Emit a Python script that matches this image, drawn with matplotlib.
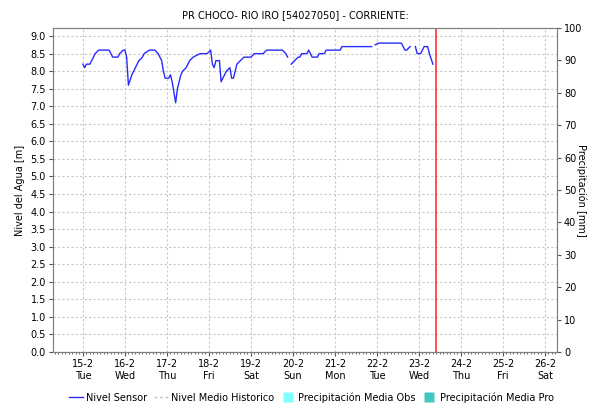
import numpy as np
import matplotlib
matplotlib.use("Agg")
import matplotlib.pyplot as plt
import matplotlib.dates as mdates
from matplotlib.lines import Line2D
from datetime import datetime, timedelta

START = datetime(2022, 2, 15, 0, 0)

# horas desde 15-2 00:00 y nivel [m]; None = hueco en la serie
horas = [0, 1, 2, 4, 5, 7, 9, 15, 17, 20, 21, 23, 24, 25, 26, 28, 30, 32, 34, 35,
         38, 41, 43, 45, 46, 47, 49, 50, 51, 53, 54, 56, 57, 59, 61, 63, 67, 71, 73, 74,
         75, 76, 78, 79, 81, 82, 84, 85, 86, 88, 90, 92, 96, 98, 103, 105, 114, 116, 117,
         118, 119, 121, 123, 124, 125, 128, 129, 131, 134, 135, 138, 139, 147, 148, 165,
         166, 167, 169, 182, 184, 185, 187, 188, 190, 191, 193, 195, 197, 198, 200]
nivel = [8.2, 8.1, 8.2, 8.2, 8.3, 8.5, 8.6, 8.6, 8.4, 8.4, 8.5, 8.6, 8.6, 8.4, 7.6, 7.9, 8.1, 8.3, 8.4, 8.5,
         8.6, 8.6, 8.5, 8.3, 8.0, 7.8, 7.8, 7.9, 7.7, 7.1, 7.5, 7.9, 8.0, 8.1, 8.3, 8.4, 8.5, 8.5, 8.6, 8.2,
         8.1, 8.3, 8.3, 7.7, 7.9, 8.0, 8.1, 7.8, 7.8, 8.2, 8.3, 8.4, 8.4, 8.5, 8.5, 8.6, 8.6, 8.5, 8.4,
         None, 8.2, 8.3, 8.4, 8.4, 8.5, 8.5, 8.6, 8.4, 8.4, 8.5, 8.5, 8.6, 8.6, 8.7, 8.7,
         None, 8.75, 8.8, 8.8, 8.6, 8.6, 8.7, None, 8.7, 8.5, 8.5, 8.7, 8.7, 8.5, 8.2]

ahora = START + timedelta(hours=201.5)
dias = [START + timedelta(days=i) for i in range(12)]
titulo = "PR CHOCO- RIO IRO [54027050] - CORRIENTE:"

t = [START + timedelta(hours=h) for h in horas]
y = np.array([np.nan if v is None else v for v in nivel])

fig = plt.figure(figsize=(5.9, 4.04), dpi=100)
ax = fig.add_axes([0.0898, 0.1287, 0.8542, 0.802])
ax2 = ax.twinx()

ax.plot(t, y, color="#2a2aff", lw=1.0)
ax.axvline(ahora, color="#ff2020", lw=1.1)

x0 = START - timedelta(hours=17.1)
ax.set_xlim(x0, x0 + timedelta(hours=288))
ax.set_ylim(0, 9.23)
ax.set_yticks(np.arange(0, 9.01, 0.5))
ax.set_yticklabels([f"{v:.1f}" for v in np.arange(0, 9.01, 0.5)])
ax.set_xticks(dias)
ax.set_xticklabels([d.strftime("%-d-%-m") + "\n" + d.strftime("%a") for d in dias])
ax.xaxis.set_minor_locator(mdates.HourLocator(interval=2))
ax.tick_params(axis="x", which="minor", length=1.5, color="#555555")
ax.tick_params(axis="both", which="major", labelsize=7, length=3, color="#555555", pad=2)
ax.grid(True, which="major", color="#c8c8c8", linestyle=(0, (2, 2)), lw=0.8)

ax2.set_ylim(0, 100)
ax2.set_yticks(np.arange(0, 101, 10))
ax2.tick_params(axis="y", labelsize=7, length=3, color="#555555", pad=2)

for a in (ax, ax2):
    for s in a.spines.values():
        s.set_color("#808080")

ax.set_ylabel("Nivel del Agua [m]", fontsize=7, labelpad=4)
ax2.set_ylabel("Precipitación [mm]", fontsize=7, rotation=270, labelpad=3)
fig.text(0.5, 0.962, titulo, ha="center", va="center", fontsize=7)

handles = [
    Line2D([], [], color="#2a2aff", lw=1.0),
    Line2D([], [], color="#c0c0c0", lw=1.0, linestyle=(0, (2, 2))),
    Line2D([], [], color="none", marker="s", markersize=7, markerfacecolor="#80ffff", markeredgecolor="none"),
    Line2D([], [], color="none", marker="s", markersize=7, markerfacecolor="#40c8c0", markeredgecolor="none"),
]
labels = ["Nivel Sensor", "Nivel Medio Historico", "Precipitación Media Obs", "Precipitación Media Pro"]
fig.legend(handles, labels, loc="center", bbox_to_anchor=(0.528, 0.016), ncol=4, frameon=False,
           fontsize=7, handlelength=1.4, handletextpad=0.35, columnspacing=0.7)

fig.savefig("out.png", dpi=100)
